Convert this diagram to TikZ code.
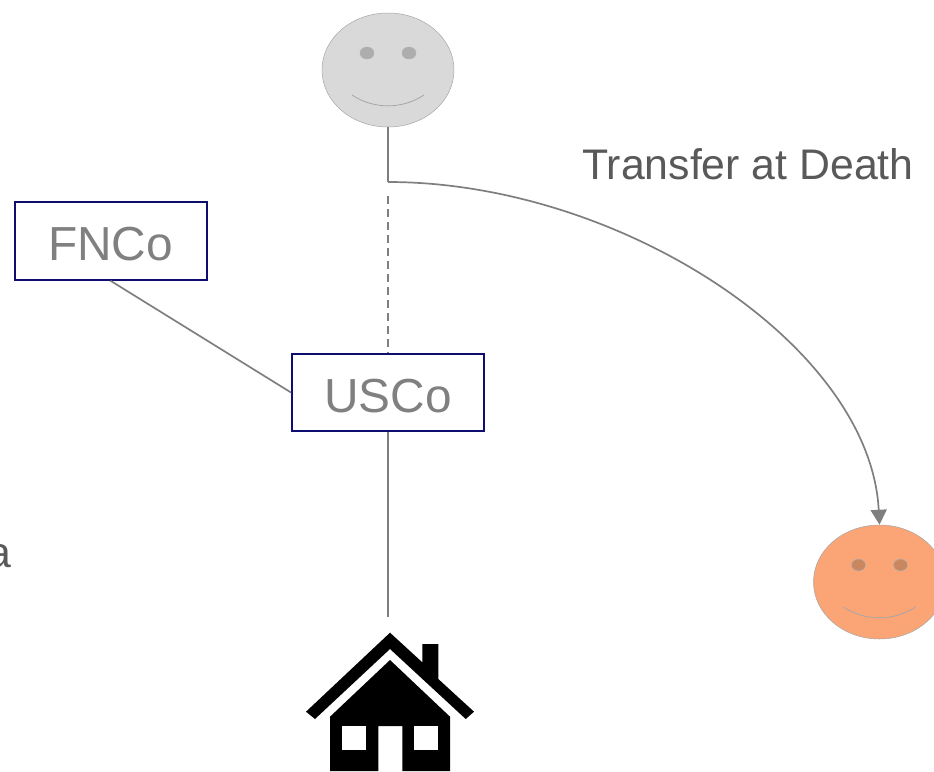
\documentclass[tikz,border=0pt]{standalone}
\usepackage{fontspec}
\setmainfont{Liberation Sans}
\usetikzlibrary{shapes.geometric,arrows.meta}
\definecolor{facegray}{HTML}{D9D9D9}
\definecolor{eyegray}{HTML}{ADADAD}
\definecolor{faceorange}{HTML}{FBA576}
\definecolor{eyeorange}{HTML}{C9875F}
\definecolor{boxblue}{HTML}{0E0E70}
\definecolor{linegray}{HTML}{7F7F7F}
\begin{document}
\begin{tikzpicture}[x=1pt,y=-1pt,
        companybox/.style={draw=boxblue, line width=2pt, minimum width=192pt, minimum height=77.5pt, inner sep=0pt, text height=39pt, text depth=0pt, text=black!50, font=\fontsize{47.8}{50}\selectfont},
        connector/.style={draw=linegray, line width=1.7pt},
        note/.style={text=black!65, font=\fontsize{42.8}{46}\selectfont, inner sep=0pt}]
                        \useasboundingbox (0,0) rectangle (934,771);
                        \foreach \cx/\cy/\nm/\fc/\ec in {388/70/owner/facegray/eyegray, 879.5/582/heir/faceorange/eyeorange}
                        {
                            \node [ellipse, draw=black!35, line width=0.5pt, fill=\fc, minimum width=132pt, minimum height=114pt, inner sep=0pt] (\nm) at (\cx,\cy) {};
                            \draw [draw=black!30, fill=\ec, line width=0.5pt] (\cx-21,\cy-17) ellipse [x radius=7, y radius=6];
                            \draw [draw=black!30, fill=\ec, line width=0.5pt] (\cx+21,\cy-17) ellipse [x radius=7, y radius=6];
                            \draw [draw=black!35, line width=0.8pt] (\cx-36,\cy+25) .. controls (\cx-14,\cy+39.5) and (\cx+14,\cy+39.5) .. (\cx+36,\cy+25);
                        }
                        \node [companybox] (fnco) at (110.5,241) {FNCo};
                        \node [companybox] (usco) at (388,392.5) {USCo};
                        \node [note, anchor=base west] (transfer) at (582,179) {Transfer at Death};
                        \node [note, anchor=base east] (cutoff) at (12,567) {a};
                        \coordinate (bend) at (388,182);
                        \coordinate (dashstart) at (388,196);
                        \coordinate (propertytop) at (388,617);
                        \draw [connector] (owner.south) -- (bend);
                        \draw [connector, -{Triangle[length=15pt,width=16pt]}] (bend) .. controls (620,182) and (870,345) .. (heir.north);
                        \draw [connector, dashed, dash pattern=on 8pt off 5pt] (dashstart) -- (usco.north);
                        \draw [connector] (fnco.south) -- (usco.west);
                        \draw [connector] (usco.south) -- (propertytop);
                        \fill [black] (390,632.7) -- (422.3,662.3) -- (422.3,644) -- (438.3,644) -- (438.3,679) -- (474,711.7) -- (465.7,719) -- (390,649) -- (315,719) -- (306,711.7) -- cycle;
                        \fill [black] (390,660) -- (450,716.7) -- (450,771) -- (402.3,771) -- (402.3,726) -- (378.3,726) -- (378.3,771) -- (330,771) -- (330,716.7) -- cycle;
                        \fill [white] (342,726) rectangle (366.3,750.3);
                        \fill [white] (414.3,726) rectangle (438.3,750.3);
                    \end{tikzpicture}
\end{document}
